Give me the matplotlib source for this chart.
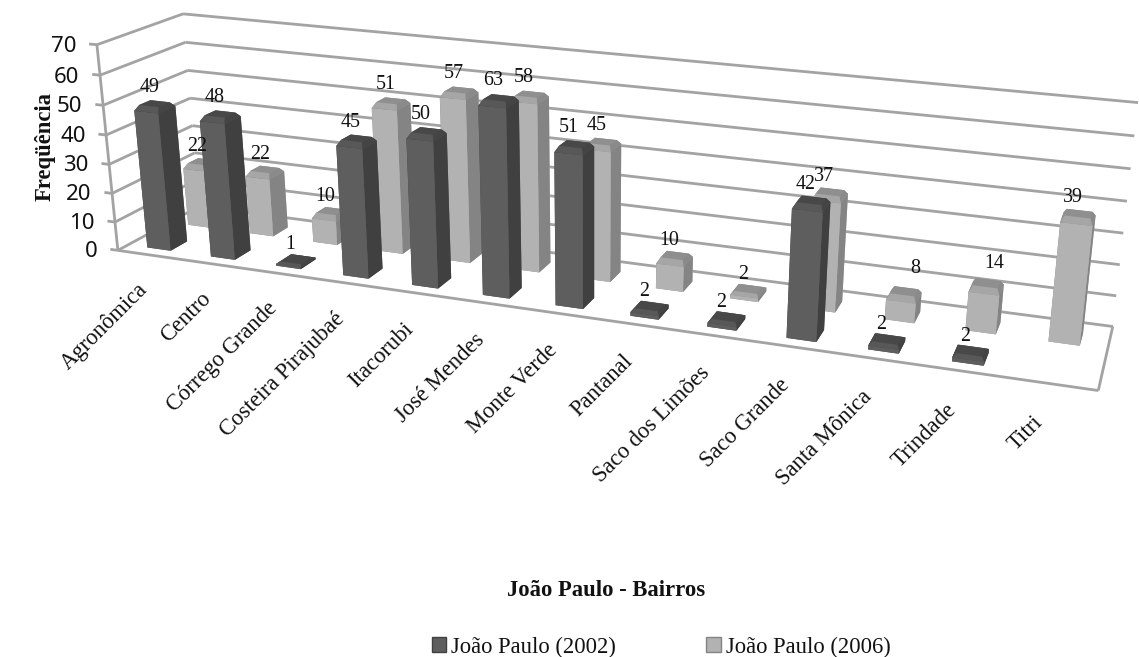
import numpy as np
import matplotlib
matplotlib.use("Agg")
import matplotlib.pyplot as plt
from matplotlib.patches import Patch
from mpl_toolkits.mplot3d.art3d import Poly3DCollection, Line3DCollection

categories = ["Agronômica", "Centro", "Córrego Grande", "Costeira Pirajubaé", "Itacorubi",
              "José Mendes", "Monte Verde", "Pantanal", "Saco dos Limões", "Saco Grande",
              "Santa Mônica", "Trindade", "Titri"]
values_2002 = [49, 48, 1, 45, 50, 63, 51, 2, 2, 42, 2, 2, 0]
values_2006 = [22, 22, 10, 51, 57, 58, 45, 10, 2, 37, 8, 14, 39]
series_names = ["João Paulo (2002)", "João Paulo (2006)"]
z_ticks = [0, 10, 20, 30, 40, 50, 60, 70]
x_title = "João Paulo - Bairros"
z_title = "Freqüência"

W, H = 1139, 657
SERIF = "Liberation Serif"
GRID = "#a3a3a3"
INK = "#111111"

# Camera calibration: box corners of the chart frame (world) and where they land (pixels)
n = len(categories)
world = np.array([(0, 0, 0), (0, 0, 70), (0, 1, 0), (0, 1, 70), (n, 1, 0), (n, 1, 70), (n, 0, 0), (n, 1, 40)], float)
pixels = np.array([(118, 248), (97, 45), (199, 209), (183, 13), (1113, 324), (1138, 104), (1098, 393), (1127, 200)], float)
rows = []
for (X, Y, Z), (u, v) in zip(world, pixels):
    rows.append([X, Y, Z, 1, 0, 0, 0, 0, -u*X, -u*Y, -u*Z, -u])
    rows.append([0, 0, 0, 0, X, Y, Z, 1, -v*X, -v*Y, -v*Z, -v])
P = np.linalg.svd(np.array(rows))[2][-1].reshape(3, 4)
P = P / P[2, 3]


def project(x, y, z):
    q = P @ np.array([x, y, z, 1.0])
    return q[0] / q[2], q[1] / q[2]


fig = plt.figure(figsize=(W/100, H/100), dpi=100, facecolor="white")
bottom = (H - W) / 2 / H
ax = fig.add_axes([0, bottom, 1, W / H], projection="3d", computed_zorder=False)
ax.set_axis_off()
ax.patch.set_visible(False)


def camera():
    inv = ax.transData.inverted()
    o = inv.transform((0, 0)); a = inv.transform((1, 0)); b = inv.transform((0, 1))
    A = np.array([[a[0]-o[0], b[0]-o[0], o[0]], [a[1]-o[1], b[1]-o[1], o[1]], [0, 0, 1]])
    flip = np.array([[1, 0, 0], [0, -1, H], [0, 0, 1]], float)
    Q = A @ flip @ P
    return np.array([Q[0], Q[1], [-0.05, 1.0, -0.01, 0.0], Q[2]])


ax.get_proj = camera


def label(px, py, s, **kw):
    fig.text(px / W, 1 - py / H, s, color=INK, **kw)


# walls, floor, ticks
segments = []
for t in z_ticks:
    segments.append([(0, 0, t), (0, 1, t)])
    segments.append([(0, 1, t), (n, 1, t)])
    segments.append([(-0.12, 0, t), (0, 0, t)])
    px, py = project(-0.32, 0, t)
    label(px, py + 4, str(t), ha="right", va="center", family="Noto Sans", fontsize=16)
segments.append([(0, 0, 0), (0, 0, 70)])
segments.append([(0, 0, 0), (n, 0, 0)])
segments.append([(n, 0, 0), (n, 1, 0)])
frame = Line3DCollection(segments, colors=GRID, linewidths=2.0, zorder=1)
ax.add_collection3d(frame)
frame.set_clip_on(False)

DEPTH = 0.20
BAR_W = 0.37
STYLES = {0: dict(front="#5e5e5e", right="#404040", top="#484848", cap_f="#585858", cap_r="#444444", y0=0.12),
          1: dict(front="#b2b2b2", right="#848484", top="#8f8f8f", cap_f="#a6a6a6", cap_r="#8a8a8a", y0=0.62)}
# data labels Excel moved off their bars: (series, category) -> pixel shift
LABEL_SHIFT = {(1, 10): (17, -8), (1, 11): (13, -5)}

zo = 2


def draw_bar(series, i, v):
    global zo
    s = STYLES[series]
    x0 = i + 0.49 - BAR_W / 2
    x1 = x0 + BAR_W
    y0 = s["y0"]
    y1 = y0 + DEPTH
    bev = min(1.6, v * 0.4)
    col = [s["top"], s["top"], s["front"], s["front"], s["right"], s["right"]]
    body = ax.bar3d([x0], [y0], [0], [BAR_W], [DEPTH], [v - bev], color=col, shade=False, zorder=zo)
    body.set_clip_on(False)
    zo += 1
    ins = 0.035
    xa, xb, ya, yb = x0 + ins, x1 - ins, y0 + ins, y1 - ins
    zl, zh = v - bev, v
    faces = [
        [(x0, y1, zl), (x1, y1, zl), (xb, yb, zh), (xa, yb, zh)],
        [(x0, y0, zl), (x0, y1, zl), (xa, yb, zh), (xa, ya, zh)],
        [(x1, y0, zl), (x1, y1, zl), (xb, yb, zh), (xb, ya, zh)],
        [(x0, y0, zl), (x1, y0, zl), (xb, ya, zh), (xa, ya, zh)],
        [(xa, ya, zh), (xb, ya, zh), (xb, yb, zh), (xa, yb, zh)],
    ]
    cols = [s["top"], s["top"], s["cap_r"], s["cap_f"], s["top"]]
    cap = Poly3DCollection(faces, facecolors=cols, edgecolors="none", zorder=zo)
    ax.add_collection3d(cap)
    cap.set_clip_on(False)
    zo += 1
    px, py = project(x0 + BAR_W * 0.5, y0, v + 3.5)
    px += 6 - 0.0105 * px
    dx, dy = LABEL_SHIFT.get((series, i), (0, 0))
    label(px + dx, py + dy, str(v), ha="center", va="bottom", family=SERIF, fontsize=14.4)


for idx, vals in [(1, values_2006), (0, values_2002)]:
    for i, v in enumerate(vals):
        if v > 0:
            draw_bar(idx, i, v)

# category labels, rotated, anchored just below the front floor edge
for i, c in enumerate(categories):
    px, py = project(i + 0.42, 0, -10)
    label(px - 3, py + 4, c, rotation=45, rotation_mode="anchor", ha="right", va="center", family=SERIF, fontsize=16.3)

label(606, 590, x_title, ha="center", va="center", family=SERIF, fontsize=16.3, fontweight="bold")
label(45, 147, z_title, ha="center", va="center", rotation=90, family=SERIF, fontsize=16.3, fontweight="bold")

handles = [Patch(facecolor=STYLES[0]["front"], edgecolor=STYLES[0]["right"]),
           Patch(facecolor=STYLES[1]["front"], edgecolor=STYLES[1]["right"])]
fig.legend(handles, series_names, ncol=2, loc="center", bbox_to_anchor=(661 / W, 1 - 647 / H), frameon=False,
           prop=dict(family=SERIF, size=16.3), handlelength=0.65, handleheight=0.65, handletextpad=0.2,
           columnspacing=4.0, labelcolor=INK, borderpad=0, borderaxespad=0)

fig.savefig("out.png", dpi=100, facecolor="white")
